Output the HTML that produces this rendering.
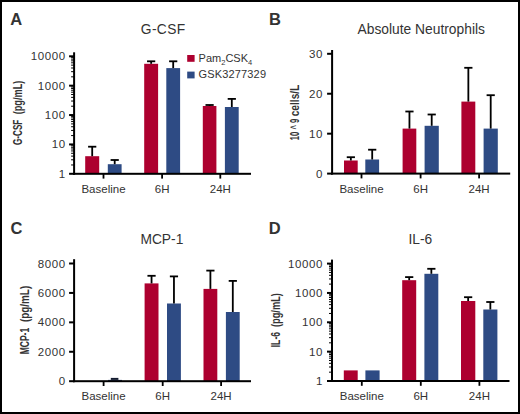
<!DOCTYPE html>
<html><head><meta charset="utf-8"><style>
html,body{margin:0;padding:0;background:#fff;}
body{width:520px;height:414px;overflow:hidden;}
svg{display:block;}
text{font-family:"Liberation Sans", sans-serif;fill:#333;}
</style></head><body>
<svg width="520" height="414" viewBox="0 0 520 414">
<rect x="0" y="0" width="520" height="414" fill="#000"/>
<rect x="2" y="2" width="516" height="410" fill="#fff"/>
<rect x="85.20" y="156.20" width="14.00" height="17.60" fill="#ad002f"/>
<rect x="91.30" y="146.70" width="1.80" height="9.50" fill="#000"/>
<rect x="88.10" y="145.80" width="8.20" height="1.80" fill="#000"/>
<rect x="107.80" y="164.20" width="13.80" height="9.60" fill="#2e4b84"/>
<rect x="113.80" y="160.00" width="1.80" height="4.20" fill="#000"/>
<rect x="110.60" y="159.10" width="8.20" height="1.80" fill="#000"/>
<rect x="144.20" y="63.80" width="13.90" height="110.00" fill="#ad002f"/>
<rect x="150.25" y="61.30" width="1.80" height="2.50" fill="#000"/>
<rect x="147.05" y="60.40" width="8.20" height="1.80" fill="#000"/>
<rect x="166.30" y="68.10" width="13.80" height="105.70" fill="#2e4b84"/>
<rect x="172.30" y="61.30" width="1.80" height="6.80" fill="#000"/>
<rect x="169.10" y="60.40" width="8.20" height="1.80" fill="#000"/>
<rect x="202.80" y="106.00" width="13.60" height="67.80" fill="#ad002f"/>
<rect x="208.70" y="105.00" width="1.80" height="1.00" fill="#000"/>
<rect x="205.50" y="104.10" width="8.20" height="1.80" fill="#000"/>
<rect x="224.90" y="107.00" width="13.80" height="66.80" fill="#2e4b84"/>
<rect x="230.90" y="98.90" width="1.80" height="8.10" fill="#000"/>
<rect x="227.70" y="98.00" width="8.20" height="1.80" fill="#000"/>
<rect x="73.10" y="52.30" width="2.00" height="122.50" fill="#000"/>
<rect x="73.10" y="172.80" width="177.90" height="2.00" fill="#000"/>
<rect x="69.10" y="172.80" width="5.00" height="2.00" fill="#000"/>
<text x="65.80" y="177.80" font-size="11.5" text-anchor="end" font-weight="normal" letter-spacing="0.6">1</text>
<rect x="69.10" y="143.43" width="5.00" height="2.00" fill="#000"/>
<text x="65.80" y="148.43" font-size="11.5" text-anchor="end" font-weight="normal" letter-spacing="0.6">10</text>
<rect x="69.10" y="114.05" width="5.00" height="2.00" fill="#000"/>
<text x="65.80" y="119.05" font-size="11.5" text-anchor="end" font-weight="normal" letter-spacing="0.6">100</text>
<rect x="69.10" y="84.67" width="5.00" height="2.00" fill="#000"/>
<text x="65.80" y="89.67" font-size="11.5" text-anchor="end" font-weight="normal" letter-spacing="0.6">1000</text>
<rect x="69.10" y="55.30" width="5.00" height="2.00" fill="#000"/>
<text x="65.80" y="60.30" font-size="11.5" text-anchor="end" font-weight="normal" letter-spacing="0.6">10000</text>
<rect x="71.10" y="164.46" width="3.00" height="1.00" fill="#000"/>
<rect x="71.10" y="159.28" width="3.00" height="1.00" fill="#000"/>
<rect x="71.10" y="155.61" width="3.00" height="1.00" fill="#000"/>
<rect x="71.10" y="152.77" width="3.00" height="1.00" fill="#000"/>
<rect x="71.10" y="150.44" width="3.00" height="1.00" fill="#000"/>
<rect x="71.10" y="148.48" width="3.00" height="1.00" fill="#000"/>
<rect x="71.10" y="146.77" width="3.00" height="1.00" fill="#000"/>
<rect x="71.10" y="145.27" width="3.00" height="1.00" fill="#000"/>
<rect x="71.10" y="135.08" width="3.00" height="1.00" fill="#000"/>
<rect x="71.10" y="129.91" width="3.00" height="1.00" fill="#000"/>
<rect x="71.10" y="126.24" width="3.00" height="1.00" fill="#000"/>
<rect x="71.10" y="123.39" width="3.00" height="1.00" fill="#000"/>
<rect x="71.10" y="121.07" width="3.00" height="1.00" fill="#000"/>
<rect x="71.10" y="119.10" width="3.00" height="1.00" fill="#000"/>
<rect x="71.10" y="117.40" width="3.00" height="1.00" fill="#000"/>
<rect x="71.10" y="115.89" width="3.00" height="1.00" fill="#000"/>
<rect x="71.10" y="105.71" width="3.00" height="1.00" fill="#000"/>
<rect x="71.10" y="100.53" width="3.00" height="1.00" fill="#000"/>
<rect x="71.10" y="96.86" width="3.00" height="1.00" fill="#000"/>
<rect x="71.10" y="94.02" width="3.00" height="1.00" fill="#000"/>
<rect x="71.10" y="91.69" width="3.00" height="1.00" fill="#000"/>
<rect x="71.10" y="89.73" width="3.00" height="1.00" fill="#000"/>
<rect x="71.10" y="88.02" width="3.00" height="1.00" fill="#000"/>
<rect x="71.10" y="86.52" width="3.00" height="1.00" fill="#000"/>
<rect x="71.10" y="76.33" width="3.00" height="1.00" fill="#000"/>
<rect x="71.10" y="71.16" width="3.00" height="1.00" fill="#000"/>
<rect x="71.10" y="67.49" width="3.00" height="1.00" fill="#000"/>
<rect x="71.10" y="64.64" width="3.00" height="1.00" fill="#000"/>
<rect x="71.10" y="62.32" width="3.00" height="1.00" fill="#000"/>
<rect x="71.10" y="60.35" width="3.00" height="1.00" fill="#000"/>
<rect x="71.10" y="58.65" width="3.00" height="1.00" fill="#000"/>
<rect x="71.10" y="57.14" width="3.00" height="1.00" fill="#000"/>
<rect x="102.60" y="173.80" width="1.80" height="4.80" fill="#000"/>
<text x="103.50" y="192.80" font-size="11.5" text-anchor="middle" font-weight="normal" >Baseline</text>
<rect x="161.20" y="173.80" width="1.80" height="4.80" fill="#000"/>
<text x="162.10" y="192.80" font-size="11.5" text-anchor="middle" font-weight="normal" >6H</text>
<rect x="219.40" y="173.80" width="1.80" height="4.80" fill="#000"/>
<text x="220.30" y="192.80" font-size="11.5" text-anchor="middle" font-weight="normal" >24H</text>
<text x="140.80" y="34.40" font-size="13.8" text-anchor="start" font-weight="normal" letter-spacing="0.35">G-CSF</text>
<text x="10.20" y="24.80" font-size="16.5" text-anchor="start" font-weight="bold" >A</text>
<text transform="translate(22.30,114.30) rotate(-90)" font-size="12.8" textLength="33.70" lengthAdjust="spacingAndGlyphs" font-weight="bold" fill="#222">(pg/mL)</text>
<text transform="translate(22.30,145.00) rotate(-90)" font-size="12.8" textLength="25.30" lengthAdjust="spacingAndGlyphs" font-weight="bold" fill="#222">G-CSF</text>
<rect x="344.00" y="160.50" width="13.70" height="13.10" fill="#ad002f"/>
<rect x="349.95" y="157.20" width="1.80" height="3.30" fill="#000"/>
<rect x="346.75" y="156.30" width="8.20" height="1.80" fill="#000"/>
<rect x="365.30" y="159.50" width="13.80" height="14.10" fill="#2e4b84"/>
<rect x="371.30" y="149.70" width="1.80" height="9.80" fill="#000"/>
<rect x="368.10" y="148.80" width="8.20" height="1.80" fill="#000"/>
<rect x="402.60" y="128.60" width="13.70" height="45.00" fill="#ad002f"/>
<rect x="408.55" y="111.50" width="1.80" height="17.10" fill="#000"/>
<rect x="405.35" y="110.60" width="8.20" height="1.80" fill="#000"/>
<rect x="424.60" y="125.80" width="14.20" height="47.80" fill="#2e4b84"/>
<rect x="430.80" y="114.50" width="1.80" height="11.30" fill="#000"/>
<rect x="427.60" y="113.60" width="8.20" height="1.80" fill="#000"/>
<rect x="461.40" y="101.60" width="13.90" height="72.00" fill="#ad002f"/>
<rect x="467.45" y="67.80" width="1.80" height="33.80" fill="#000"/>
<rect x="464.25" y="66.90" width="8.20" height="1.80" fill="#000"/>
<rect x="483.60" y="128.60" width="14.20" height="45.00" fill="#2e4b84"/>
<rect x="489.80" y="95.20" width="1.80" height="33.40" fill="#000"/>
<rect x="486.60" y="94.30" width="8.20" height="1.80" fill="#000"/>
<rect x="331.10" y="50.00" width="2.00" height="124.60" fill="#000"/>
<rect x="331.10" y="172.60" width="179.10" height="2.00" fill="#000"/>
<rect x="327.10" y="172.60" width="5.00" height="2.00" fill="#000"/>
<text x="323.00" y="177.60" font-size="11.5" text-anchor="end" font-weight="normal" letter-spacing="0.6">0</text>
<rect x="327.10" y="132.67" width="5.00" height="2.00" fill="#000"/>
<text x="323.00" y="137.67" font-size="11.5" text-anchor="end" font-weight="normal" letter-spacing="0.6">10</text>
<rect x="327.10" y="92.73" width="5.00" height="2.00" fill="#000"/>
<text x="323.00" y="97.73" font-size="11.5" text-anchor="end" font-weight="normal" letter-spacing="0.6">20</text>
<rect x="327.10" y="52.80" width="5.00" height="2.00" fill="#000"/>
<text x="323.00" y="57.80" font-size="11.5" text-anchor="end" font-weight="normal" letter-spacing="0.6">30</text>
<rect x="360.60" y="173.60" width="1.80" height="4.80" fill="#000"/>
<text x="361.50" y="192.60" font-size="11.5" text-anchor="middle" font-weight="normal" >Baseline</text>
<rect x="419.70" y="173.60" width="1.80" height="4.80" fill="#000"/>
<text x="420.60" y="192.60" font-size="11.5" text-anchor="middle" font-weight="normal" >6H</text>
<rect x="478.20" y="173.60" width="1.80" height="4.80" fill="#000"/>
<text x="479.10" y="192.60" font-size="11.5" text-anchor="middle" font-weight="normal" >24H</text>
<text x="357.60" y="34.00" font-size="13.8" text-anchor="start" font-weight="normal" letter-spacing="0">Absolute Neutrophils</text>
<text x="269.00" y="24.80" font-size="16.5" text-anchor="start" font-weight="bold" >B</text>
<text transform="translate(298.60,116.30) rotate(-90)" font-size="12.8" textLength="31.60" lengthAdjust="spacingAndGlyphs" font-weight="bold" fill="#222">cells/L</text>
<text transform="translate(298.60,140.20) rotate(-90)" font-size="12.8" textLength="21.50" lengthAdjust="spacingAndGlyphs" font-weight="bold" fill="#222">10 ^ 9</text>
<rect x="108.00" y="379.90" width="14.00" height="1.30" fill="#2e4b84"/>
<rect x="144.60" y="283.40" width="13.90" height="97.80" fill="#ad002f"/>
<rect x="150.65" y="275.80" width="1.80" height="7.60" fill="#000"/>
<rect x="147.45" y="274.90" width="8.20" height="1.80" fill="#000"/>
<rect x="167.00" y="303.50" width="13.90" height="77.70" fill="#2e4b84"/>
<rect x="173.05" y="276.40" width="1.80" height="27.10" fill="#000"/>
<rect x="169.85" y="275.50" width="8.20" height="1.80" fill="#000"/>
<rect x="203.50" y="288.90" width="13.80" height="92.30" fill="#ad002f"/>
<rect x="209.50" y="270.60" width="1.80" height="18.30" fill="#000"/>
<rect x="206.30" y="269.70" width="8.20" height="1.80" fill="#000"/>
<rect x="225.90" y="312.00" width="13.80" height="69.20" fill="#2e4b84"/>
<rect x="231.90" y="280.90" width="1.80" height="31.10" fill="#000"/>
<rect x="228.70" y="280.00" width="8.20" height="1.80" fill="#000"/>
<rect x="73.10" y="259.20" width="2.00" height="123.00" fill="#000"/>
<rect x="73.10" y="380.20" width="177.90" height="2.00" fill="#000"/>
<rect x="69.10" y="380.20" width="5.00" height="2.00" fill="#000"/>
<text x="65.80" y="385.20" font-size="11.5" text-anchor="end" font-weight="normal" letter-spacing="0.6">0</text>
<rect x="69.10" y="350.77" width="5.00" height="2.00" fill="#000"/>
<text x="65.80" y="355.77" font-size="11.5" text-anchor="end" font-weight="normal" letter-spacing="0.6">2000</text>
<rect x="69.10" y="321.35" width="5.00" height="2.00" fill="#000"/>
<text x="65.80" y="326.35" font-size="11.5" text-anchor="end" font-weight="normal" letter-spacing="0.6">4000</text>
<rect x="69.10" y="291.93" width="5.00" height="2.00" fill="#000"/>
<text x="65.80" y="296.93" font-size="11.5" text-anchor="end" font-weight="normal" letter-spacing="0.6">6000</text>
<rect x="69.10" y="262.50" width="5.00" height="2.00" fill="#000"/>
<text x="65.80" y="267.50" font-size="11.5" text-anchor="end" font-weight="normal" letter-spacing="0.6">8000</text>
<rect x="102.70" y="381.20" width="1.80" height="4.80" fill="#000"/>
<text x="103.60" y="400.20" font-size="11.5" text-anchor="middle" font-weight="normal" >Baseline</text>
<rect x="161.80" y="381.20" width="1.80" height="4.80" fill="#000"/>
<text x="162.70" y="400.20" font-size="11.5" text-anchor="middle" font-weight="normal" >6H</text>
<rect x="220.20" y="381.20" width="1.80" height="4.80" fill="#000"/>
<text x="221.10" y="400.20" font-size="11.5" text-anchor="middle" font-weight="normal" >24H</text>
<text x="140.40" y="243.70" font-size="13.8" text-anchor="start" font-weight="normal" letter-spacing="0">MCP-1</text>
<text x="10.60" y="233.50" font-size="16.5" text-anchor="start" font-weight="bold" >C</text>
<text transform="translate(28.50,322.00) rotate(-90)" font-size="12.8" textLength="36.20" lengthAdjust="spacingAndGlyphs" font-weight="bold" fill="#222">(pg/mL)</text>
<text transform="translate(28.50,354.30) rotate(-90)" font-size="12.8" textLength="26.50" lengthAdjust="spacingAndGlyphs" font-weight="bold" fill="#222">MCP-1</text>
<rect x="343.80" y="370.40" width="13.90" height="10.60" fill="#ad002f"/>
<rect x="365.40" y="370.40" width="14.20" height="10.60" fill="#2e4b84"/>
<rect x="402.20" y="280.20" width="14.00" height="100.80" fill="#ad002f"/>
<rect x="408.30" y="277.10" width="1.80" height="3.10" fill="#000"/>
<rect x="405.10" y="276.20" width="8.20" height="1.80" fill="#000"/>
<rect x="424.40" y="273.80" width="13.90" height="107.20" fill="#2e4b84"/>
<rect x="430.45" y="268.80" width="1.80" height="5.00" fill="#000"/>
<rect x="427.25" y="267.90" width="8.20" height="1.80" fill="#000"/>
<rect x="461.00" y="301.00" width="14.30" height="80.00" fill="#ad002f"/>
<rect x="467.25" y="297.20" width="1.80" height="3.80" fill="#000"/>
<rect x="464.05" y="296.30" width="8.20" height="1.80" fill="#000"/>
<rect x="483.30" y="309.50" width="14.10" height="71.50" fill="#2e4b84"/>
<rect x="489.45" y="302.00" width="1.80" height="7.50" fill="#000"/>
<rect x="486.25" y="301.10" width="8.20" height="1.80" fill="#000"/>
<rect x="331.00" y="259.60" width="2.00" height="122.40" fill="#000"/>
<rect x="331.00" y="380.00" width="178.50" height="2.00" fill="#000"/>
<rect x="327.00" y="380.00" width="5.00" height="2.00" fill="#000"/>
<text x="322.90" y="385.00" font-size="11.5" text-anchor="end" font-weight="normal" letter-spacing="0.6">1</text>
<rect x="327.00" y="350.65" width="5.00" height="2.00" fill="#000"/>
<text x="322.90" y="355.65" font-size="11.5" text-anchor="end" font-weight="normal" letter-spacing="0.6">10</text>
<rect x="327.00" y="321.30" width="5.00" height="2.00" fill="#000"/>
<text x="322.90" y="326.30" font-size="11.5" text-anchor="end" font-weight="normal" letter-spacing="0.6">100</text>
<rect x="327.00" y="291.95" width="5.00" height="2.00" fill="#000"/>
<text x="322.90" y="296.95" font-size="11.5" text-anchor="end" font-weight="normal" letter-spacing="0.6">1000</text>
<rect x="327.00" y="262.60" width="5.00" height="2.00" fill="#000"/>
<text x="322.90" y="267.60" font-size="11.5" text-anchor="end" font-weight="normal" letter-spacing="0.6">10000</text>
<rect x="329.00" y="371.66" width="3.00" height="1.00" fill="#000"/>
<rect x="329.00" y="366.50" width="3.00" height="1.00" fill="#000"/>
<rect x="329.00" y="362.83" width="3.00" height="1.00" fill="#000"/>
<rect x="329.00" y="359.99" width="3.00" height="1.00" fill="#000"/>
<rect x="329.00" y="357.66" width="3.00" height="1.00" fill="#000"/>
<rect x="329.00" y="355.70" width="3.00" height="1.00" fill="#000"/>
<rect x="329.00" y="353.99" width="3.00" height="1.00" fill="#000"/>
<rect x="329.00" y="352.49" width="3.00" height="1.00" fill="#000"/>
<rect x="329.00" y="342.31" width="3.00" height="1.00" fill="#000"/>
<rect x="329.00" y="337.15" width="3.00" height="1.00" fill="#000"/>
<rect x="329.00" y="333.48" width="3.00" height="1.00" fill="#000"/>
<rect x="329.00" y="330.64" width="3.00" height="1.00" fill="#000"/>
<rect x="329.00" y="328.31" width="3.00" height="1.00" fill="#000"/>
<rect x="329.00" y="326.35" width="3.00" height="1.00" fill="#000"/>
<rect x="329.00" y="324.64" width="3.00" height="1.00" fill="#000"/>
<rect x="329.00" y="323.14" width="3.00" height="1.00" fill="#000"/>
<rect x="329.00" y="312.96" width="3.00" height="1.00" fill="#000"/>
<rect x="329.00" y="307.80" width="3.00" height="1.00" fill="#000"/>
<rect x="329.00" y="304.13" width="3.00" height="1.00" fill="#000"/>
<rect x="329.00" y="301.29" width="3.00" height="1.00" fill="#000"/>
<rect x="329.00" y="298.96" width="3.00" height="1.00" fill="#000"/>
<rect x="329.00" y="297.00" width="3.00" height="1.00" fill="#000"/>
<rect x="329.00" y="295.29" width="3.00" height="1.00" fill="#000"/>
<rect x="329.00" y="293.79" width="3.00" height="1.00" fill="#000"/>
<rect x="329.00" y="283.61" width="3.00" height="1.00" fill="#000"/>
<rect x="329.00" y="278.45" width="3.00" height="1.00" fill="#000"/>
<rect x="329.00" y="274.78" width="3.00" height="1.00" fill="#000"/>
<rect x="329.00" y="271.94" width="3.00" height="1.00" fill="#000"/>
<rect x="329.00" y="269.61" width="3.00" height="1.00" fill="#000"/>
<rect x="329.00" y="267.65" width="3.00" height="1.00" fill="#000"/>
<rect x="329.00" y="265.94" width="3.00" height="1.00" fill="#000"/>
<rect x="329.00" y="264.44" width="3.00" height="1.00" fill="#000"/>
<rect x="360.90" y="381.00" width="1.80" height="4.80" fill="#000"/>
<text x="361.80" y="400.00" font-size="11.5" text-anchor="middle" font-weight="normal" >Baseline</text>
<rect x="419.90" y="381.00" width="1.80" height="4.80" fill="#000"/>
<text x="420.80" y="400.00" font-size="11.5" text-anchor="middle" font-weight="normal" >6H</text>
<rect x="478.50" y="381.00" width="1.80" height="4.80" fill="#000"/>
<text x="479.40" y="400.00" font-size="11.5" text-anchor="middle" font-weight="normal" >24H</text>
<text x="408.50" y="243.70" font-size="13.8" text-anchor="start" font-weight="normal" letter-spacing="0">IL-6</text>
<text x="268.80" y="233.50" font-size="16.5" text-anchor="start" font-weight="bold" >D</text>
<text transform="translate(280.00,327.00) rotate(-90)" font-size="12.8" textLength="33.90" lengthAdjust="spacingAndGlyphs" font-weight="bold" fill="#222">(pg/mL)</text>
<text transform="translate(280.00,347.30) rotate(-90)" font-size="12.8" textLength="15.50" lengthAdjust="spacingAndGlyphs" font-weight="bold" fill="#222">IL-6</text>
<rect x="110.80" y="377.90" width="7.60" height="2.00" fill="#141c30"/>
<rect x="187.20" y="55.00" width="7.40" height="6.80" fill="#ad002f"/>
<rect x="187.20" y="71.60" width="7.40" height="6.80" fill="#2e4b84"/>
<text x="198.6" y="62.2" font-size="11">Pam<tspan font-size="7.5" dy="2.5">2</tspan><tspan dy="-2.5">CSK</tspan><tspan font-size="7.5" dy="2.5">4</tspan></text>
<text x="198.60" y="78.00" font-size="11" text-anchor="start" font-weight="normal" letter-spacing="0.15">GSK3277329</text>
</svg>
</body></html>
